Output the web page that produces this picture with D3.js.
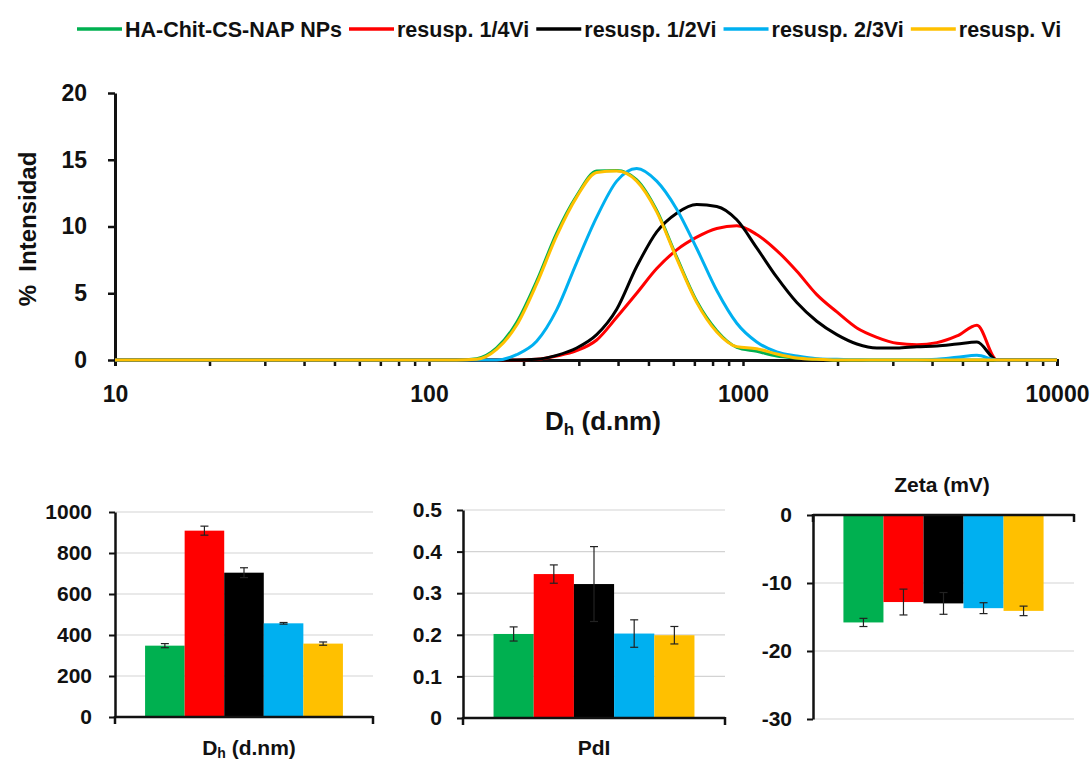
<!DOCTYPE html>
<html><head><meta charset="utf-8">
<script src="https://cdn.jsdelivr.net/npm/d3@7"></script>
<style>
html,body{margin:0;padding:0;background:#fff;}
svg{display:block;font-family:"Liberation Sans",Arial,sans-serif;font-weight:bold;}
</style></head><body>
<svg id="chart" width="1092" height="763"></svg>
<script>
// ---------- DATA ----------
const categories = ["HA-Chit-CS-NAP NPs", "resusp. 1/4Vi", "resusp. 1/2Vi", "resusp. 2/3Vi", "resusp. Vi"];
const colors = ["#00b050", "#ff0000", "#000000", "#00b0f0", "#ffc000"];

// size bins (d.nm)
const sizes = [10, 122.4, 141.8, 164.2, 190.1, 220.2, 255.0, 295.3, 342.0, 396.1, 458.7, 531.2, 615.1, 712.4, 825.0, 955.4,
  1106, 1281, 1484, 1718, 1990, 2305, 2669, 3091, 3580, 4145, 4801, 5560, 6439, 7456, 8635, 10000];

// % intensity per series
const intGreen  = [0, 0, 0.1, 0.9, 2.8, 5.9, 9.5, 12.3, 14.15, 14.2, 13.5, 11.2, 7.7, 4.4, 2.2, 0.95, 0.65, 0.3, 0.15, 0.05, 0, 0, 0, 0, 0, 0, 0, 0, 0, 0, 0, 0];
const intRed    = [0, 0, 0, 0, 0, 0.05, 0.3, 0.7, 1.5, 3.2, 5.0, 6.85, 8.25, 9.2, 9.85, 10.05, 9.4, 8.2, 6.65, 4.9, 3.6, 2.4, 1.7, 1.25, 1.15, 1.3, 1.8, 2.6, 0, 0, 0, 0];
const intBlack  = [0, 0, 0, 0, 0, 0.05, 0.35, 0.9, 1.9, 3.8, 7.0, 9.6, 11.0, 11.65, 11.5, 10.5, 8.4, 6.2, 4.3, 2.9, 1.9, 1.2, 0.9, 0.9, 1.0, 1.05, 1.2, 1.35, 0, 0, 0, 0];
const intBlue   = [0, 0, 0, 0, 0.4, 1.4, 3.75, 7.3, 10.7, 13.4, 14.35, 13.4, 11.3, 8.35, 5.2, 2.75, 1.35, 0.6, 0.3, 0.1, 0.05, 0.02, 0, 0, 0, 0.05, 0.2, 0.35, 0, 0, 0, 0];
const intYellow = [0, 0, 0.05, 0.8, 2.6, 5.7, 9.3, 12.2, 14.05, 14.15, 13.4, 11.1, 7.6, 4.3, 2.1, 1.0, 0.85, 0.45, 0.15, 0.05, 0, 0, 0, 0, 0, 0, 0, 0, 0, 0, 0, 0];
const intensities = [intGreen, intRed, intBlack, intBlue, intYellow];

const mainXLabels = [10, 100, 1000, 10000];
const mainYTicks = [0, 5, 10, 15, 20];

const dhMean = [348, 909, 704, 457, 358];
const dhErr  = [10, 22, 24, 4, 8];
const dhTicks = [0, 200, 400, 600, 800, 1000];

const pdiMean = [0.202, 0.346, 0.322, 0.203, 0.199];
const pdiErr  = [0.017, 0.022, 0.09, 0.033, 0.021];
const pdiTicks = [0, 0.1, 0.2, 0.3, 0.4, 0.5];

const zetaMean = [-15.8, -12.8, -13.0, -13.7, -14.1];
const zetaErr  = [0.6, 1.9, 1.6, 0.8, 0.7];
const zetaTicks = [0, -10, -20, -30];

// ---------- DRAW ----------
const svg = d3.select("#chart");
svg.append("rect").attr("width", 1092).attr("height", 763).attr("fill", "#fff");
const ink = "#111";

// Legend
(function legend() {
  let cx = 77;
  const ly = 29;
  categories.forEach((c, i) => {
    svg.append("line").attr("x1", cx).attr("x2", cx + 45).attr("y1", ly).attr("y2", ly)
      .attr("stroke", colors[i]).attr("stroke-width", 3.5);
    const t = svg.append("text").attr("x", cx + 48).attr("y", ly + 8).attr("font-size", 21.5)
      .attr("fill", ink).text(c);
    cx = cx + 48 + t.node().getComputedTextLength() + 7;
  });
})();

// Main chart
const x = d3.scaleLog().domain([10, 10000]).range([115, 1057]);
const y = d3.scaleLinear().domain([0, 20]).range([360, 93]);

const isPow = d => Math.abs(Math.log10(d) - Math.round(Math.log10(d))) < 1e-9;
const gx = svg.append("g").attr("transform", "translate(0,360)")
  .call(d3.axisBottom(x).tickValues(x.ticks()).tickSizeOuter(0).tickSize(6).tickPadding(20)
    .tickFormat(d => (isPow(d) && mainXLabels.includes(Math.round(d))) ? String(Math.round(d)) : ""));
gx.attr("font-family", null).attr("font-size", null);
gx.select(".domain").attr("stroke", ink).attr("stroke-width", 3);
gx.selectAll(".tick line").attr("stroke", ink).attr("stroke-width", 2.5);
gx.selectAll(".tick text").attr("font-size", 23).attr("fill", ink);

const gy = svg.append("g").attr("transform", "translate(115,0)")
  .call(d3.axisLeft(y).tickValues(mainYTicks).tickSize(7).tickSizeOuter(0).tickPadding(21));
gy.attr("font-family", null).attr("font-size", null);
gy.select(".domain").attr("stroke", ink).attr("stroke-width", 3);
gy.selectAll(".tick line").attr("stroke", ink).attr("stroke-width", 2.5);
gy.selectAll(".tick text").attr("font-size", 23).attr("fill", ink);

const line = d3.line().x((d, i) => x(sizes[i])).y(d => y(d)).curve(d3.curveMonotoneX);
intensities.forEach((vals, i) => {
  svg.append("path").datum(vals).attr("d", line).attr("fill", "none")
    .attr("stroke", colors[i]).attr("stroke-width", 3).attr("stroke-linejoin", "round");
});

// Titles main
svg.append("text").attr("transform", "translate(36,229) rotate(-90)").attr("text-anchor", "middle")
  .attr("font-size", 24).attr("fill", ink).style("white-space", "pre").text("%  Intensidad");

const xt = svg.append("text").attr("x", 603).attr("y", 430).attr("text-anchor", "middle").attr("fill", ink);
xt.append("tspan").attr("font-size", 26).text("D");
xt.append("tspan").attr("font-size", 17).attr("dy", 5).text("h");
xt.append("tspan").attr("font-size", 26).attr("dy", -5).style("white-space", "pre").text(" (d.nm)");

// Bar panels
function barPanel(o) {
  const xb = d3.scaleBand().domain(categories).range([o.left, o.right]).paddingInner(0).paddingOuter(0.76);
  const yb = d3.scaleLinear().domain(o.domain).range(o.range);
  const g = svg.append("g");
  g.selectAll("line.grid").data(o.ticks.filter(t => t !== 0)).join("line").attr("class", "grid")
    .attr("x1", o.left).attr("x2", o.right).attr("y1", d => yb(d)).attr("y2", d => yb(d))
    .attr("stroke", "#d3d3d3").attr("stroke-width", 1.2);
  g.selectAll("rect.bar").data(o.means).join("rect").attr("class", "bar")
    .attr("x", (d, i) => xb(categories[i])).attr("width", xb.bandwidth())
    .attr("y", d => Math.min(yb(d), yb(0))).attr("height", d => Math.abs(yb(d) - yb(0)))
    .attr("fill", (d, i) => colors[i]);
  const eb = g.selectAll("g.err").data(o.means).join("g").attr("class", "err");
  eb.append("line").attr("x1", (d, i) => xb(categories[i]) + xb.bandwidth() / 2)
    .attr("x2", (d, i) => xb(categories[i]) + xb.bandwidth() / 2)
    .attr("y1", (d, i) => yb(d - o.errs[i])).attr("y2", (d, i) => yb(d + o.errs[i]));
  [-1, 1].forEach(s => {
    eb.append("line").attr("x1", (d, i) => xb(categories[i]) + xb.bandwidth() / 2 - 4)
      .attr("x2", (d, i) => xb(categories[i]) + xb.bandwidth() / 2 + 4)
      .attr("y1", (d, i) => yb(d + s * o.errs[i])).attr("y2", (d, i) => yb(d + s * o.errs[i]));
  });
  eb.selectAll("line").attr("stroke", "#222").attr("stroke-width", 1.2);

  const ay = g.append("g").attr("transform", `translate(${o.left},0)`)
    .call(d3.axisLeft(yb).tickValues(o.ticks).tickFormat(o.fmt).tickSize(6).tickSizeOuter(0).tickPadding(o.pad));
  ay.attr("font-family", null).attr("font-size", null);
  ay.select(".domain").attr("stroke", ink).attr("stroke-width", 2.5);
  ay.selectAll(".tick line").attr("stroke", ink).attr("stroke-width", 2);
  ay.selectAll(".tick text").attr("font-size", 21).attr("fill", ink);

  const y0 = yb(0);
  g.append("line").attr("x1", o.left).attr("x2", o.right).attr("y1", y0).attr("y2", y0)
    .attr("stroke", ink).attr("stroke-width", 2.5);
  [o.left, o.right].forEach(px => {
    g.append("line").attr("x1", px).attr("x2", px).attr("y1", y0 - 1).attr("y2", y0 + 7)
      .attr("stroke", ink).attr("stroke-width", 2.5);
  });
}

const plainFmt = d => String(d);
barPanel({ left: 115, right: 373, domain: [0, 1000], range: [717, 512], ticks: dhTicks, means: dhMean, errs: dhErr, fmt: plainFmt, pad: 17 });
barPanel({ left: 463, right: 725, domain: [0, 0.5], range: [718, 510], ticks: pdiTicks, means: pdiMean, errs: pdiErr, fmt: d => d === 0 ? "0" : d.toFixed(1), pad: 15 });
barPanel({ left: 813, right: 1074, domain: [-30, 0], range: [719, 515], ticks: zetaTicks, means: zetaMean, errs: zetaErr, fmt: plainFmt, pad: 15 });

// Bar panel titles
const dl = svg.append("text").attr("x", 249).attr("y", 755).attr("text-anchor", "middle").attr("fill", ink);
dl.append("tspan").attr("font-size", 21).text("D");
dl.append("tspan").attr("font-size", 14).attr("dy", 3).text("h");
dl.append("tspan").attr("font-size", 21).attr("dy", -3).style("white-space", "pre").text(" (d.nm)");

svg.append("text").attr("x", 594).attr("y", 755).attr("text-anchor", "middle").attr("font-size", 21).attr("fill", ink).text("PdI");
svg.append("text").attr("x", 942).attr("y", 492).attr("text-anchor", "middle").attr("font-size", 21).attr("fill", ink).text("Zeta (mV)");
</script>
</body></html>
